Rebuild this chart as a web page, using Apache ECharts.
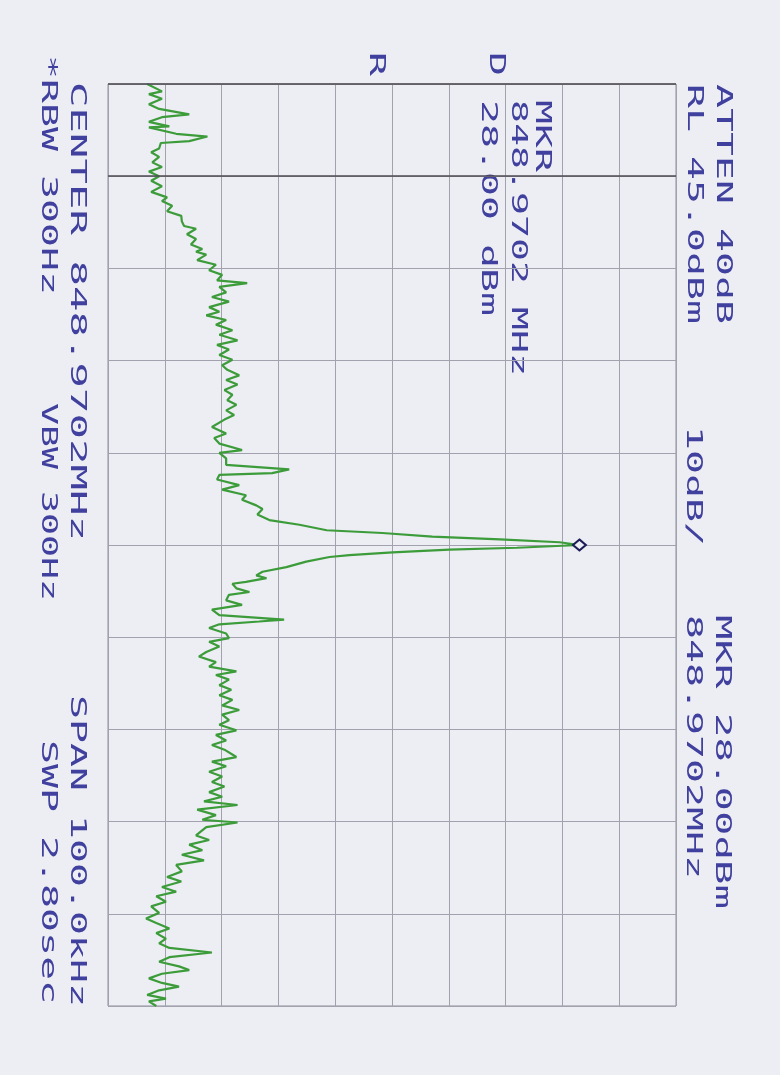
<!DOCTYPE html>
<html>
<head>
<meta charset="utf-8">
<script src="https://cdn.jsdelivr.net/npm/echarts@6/dist/echarts.min.js"></script>
<style>
  html, body { margin: 0; padding: 0; background: #ededf4; }
  #main { width: 780px; height: 1075px; }
</style>
</head>
<body>
<div id="main"></div>
<script>
// spectrum trace: offset from centre (kHz) and level (dBm)
var freqOffsetKHz = [
  -50.0, -49.2, -48.9, -48.4, -47.8, -47.3, -46.7, -46.4, -45.9, -45.4,
  -45.3, -44.6, -44.3, -43.8, -43.6, -43.0, -42.6, -42.1, -41.5, -41.0,
  -40.5, -40.0, -39.5, -38.9, -38.3, -37.7, -37.3, -36.8, -36.2, -35.7,
  -35.1, -34.6, -34.3, -33.7, -33.2, -32.6, -32.1, -31.8,
  -31.5, -30.9, -30.4, -29.8, -29.3, -28.7, -28.4, -28.0, -27.4, -26.9,
  -26.4, -25.8, -25.3, -24.9, -24.4, -23.9, -23.3, -22.8, -22.2, -21.7,
  -21.2, -20.6, -20.1, -19.5, -19.0, -18.4, -17.9, -17.4, -16.8, -16.3,
  -15.7, -15.2, -14.6, -14.1, -13.6,
  -12.8, -12.1, -11.6, -11.0, -10.3, -10.0, -9.4, -8.7, -8.2, -7.8,
  -7.6, -7.1, -6.5, -6.0, -5.4, -4.9, -4.3, -3.9, -3.3,
  -2.7, -2.2, -1.6, -1.3, -0.9, -0.6, -0.3, 0.0, 0.3, 0.5, 0.8, 1.1, 1.3, 1.8,
  2.4, 2.9, 3.3, 3.6, 4.0, 4.2, 4.7, 5.1, 5.4, 6.0,
  6.5, 7.0, 7.6, 8.1, 8.3, 8.6, 9.0, 9.6, 10.1, 10.5, 11.0, 11.6, 12.1,
  12.7, 13.2, 13.7, 14.1, 14.6, 15.2, 15.7, 16.3, 16.8, 17.4,
  17.9, 18.4, 19.0, 19.5, 20.1, 20.6, 21.2, 21.7, 22.2, 23.0,
  23.5, 24.0, 24.6, 25.1, 25.7, 26.2, 26.8, 27.3, 27.8, 28.2,
  28.7, 29.3, 29.8, 30.1, 30.6,
  31.5, 32.0, 32.5, 33.1, 33.6, 34.2, 34.7, 35.4, 36.0, 36.5,
  37.1, 37.6, 38.1, 38.7, 39.2, 39.9, 40.5, 41.0, 41.6, 42.1,
  42.7, 43.2, 43.7, 44.2, 44.7, 45.2, 45.7, 46.1, 46.5, 47.0,
  47.5, 47.9, 48.3, 48.8, 49.2, 49.5, 50.0
];
var levelDbm = [
  -48.1, -45.5, -47.8, -45.5, -47.8, -46.0, -40.7, -45.5, -47.8, -44.2,
  -47.8, -43.0, -37.5, -40.7, -45.7, -46.0, -47.4, -46.0, -47.2, -45.5,
  -47.8, -46.0, -47.4, -45.5, -47.4, -44.6, -45.5, -43.7, -44.6, -42.1,
  -42.0, -41.6, -39.5, -41.1, -39.5, -40.4, -38.4, -39.5,
  -37.7, -39.3, -36.0, -37.2, -34.9, -35.8, -30.5, -35.4, -34.2, -36.7,
  -33.7, -37.2, -35.4, -37.7, -34.2, -36.0, -33.1, -35.4, -32.2, -35.8,
  -33.7, -35.4, -33.1, -34.9, -34.0, -31.9, -34.2, -32.2, -34.5, -33.1,
  -34.0, -32.4, -34.2, -32.8, -34.5,
  -36.7, -34.2, -36.3, -35.4, -31.4, -35.4, -34.2, -34.2, -23.1, -26.1,
  -35.4, -35.8, -31.9, -34.9, -30.7, -31.4, -28.9, -27.8, -28.7,
  -26.6, -21.3, -16.5, -6.7, 2.1, 14.0, 24.5, 28.0, 17.0, 5.1, -4.9, -12.5, -16.0, -20.1,
  -23.6, -27.8, -28.9, -27.1, -30.7, -33.1, -32.4, -30.1, -33.7, -34.2,
  -31.4, -36.7, -35.4, -24.0, -28.4, -35.4, -37.2, -34.2, -33.7, -37.2, -35.4, -37.7, -39.0,
  -36.0, -37.2, -32.4, -36.0, -33.7, -35.4, -33.3, -35.4, -33.1, -34.9,
  -31.9, -34.9, -33.7, -35.4, -32.4, -36.0, -34.2, -36.7, -34.5, -32.4,
  -36.7, -34.2, -37.2, -34.9, -36.7, -34.5, -37.2, -34.9, -38.1, -32.2,
  -39.3, -36.0, -38.4, -32.2, -37.7,
  -39.5, -37.2, -40.7, -38.4, -42.0, -38.1, -43.0, -42.0, -44.6, -42.1,
  -45.5, -43.0, -46.5, -44.8, -47.4, -46.0, -48.3, -46.5, -44.2, -46.5,
  -44.8, -46.0, -44.2, -36.7, -44.2, -46.0, -42.5, -40.7, -45.5, -47.8,
  -45.5, -42.5, -46.0, -48.1, -44.8, -47.8, -46.5
];
// marker
var markerDbm = 28.0;
var markerKHz = 0.0;
// screen settings
var refLevel = 45;      // RL 45.0 dBm, top of screen
var dbPerDiv = 10;
var spanKHz = 100;

var INK = '#40409e';
var FONT = 21;

// rotated plotter text, reads top to bottom
function vtext(str, cx, y0, cell) {
  return {
    type: 'text',
    x: cx,
    y: y0,
    rotation: -Math.PI / 2,
    scaleX: cell / (FONT * 0.602),
    silent: true,
    style: {
      text: str,
      fill: INK,
      font: FONT + 'px "DejaVu Sans Mono"',
      textAlign: 'left',
      align: 'left',
      textVerticalAlign: 'middle',
      verticalAlign: 'middle'
    }
  };
}

var trace = [];
for (var i = 0; i < freqOffsetKHz.length; i++) {
  trace.push([levelDbm[i], freqOffsetKHz[i]]);
}

var myChart = echarts.init(document.getElementById('main'));
var option = {
  backgroundColor: '#ededf4',
  animation: false,
  grid: {
    left: 108,
    right: 104,
    top: 84,
    bottom: 69,
    show: true,
    borderColor: '#8e8e9a',
    borderWidth: 1
  },
  xAxis: {
    type: 'value',
    min: refLevel - 10 * dbPerDiv,
    max: refLevel,
    interval: dbPerDiv,
    axisLine: { show: false },
    axisTick: { show: false },
    axisLabel: { show: false },
    splitLine: { show: true, lineStyle: { color: '#a2a2ae', width: 1 } }
  },
  yAxis: {
    type: 'value',
    inverse: true,
    min: -spanKHz / 2,
    max: spanKHz / 2,
    interval: spanKHz / 10,
    axisLine: { show: false },
    axisTick: { show: false },
    axisLabel: { show: false },
    splitLine: { show: true, lineStyle: { color: '#a2a2ae', width: 1 } }
  },
  series: [{
    type: 'line',
    data: trace,
    showSymbol: false,
    symbol: 'none',
    lineStyle: { color: '#3c9c3a', width: 2.2 },
    markLine: {
      silent: true,
      symbol: 'none',
      label: { show: false },
      lineStyle: { color: '#4e4a52', width: 1.5, type: 'solid' },
      data: [{ yAxis: -50 }, { yAxis: -40 }]
    },
    markPoint: {
      silent: true,
      symbol: 'diamond',
      symbolSize: [13, 11],
      label: { show: false },
      itemStyle: { color: '#ededf4', borderColor: '#1c1c58', borderWidth: 2 },
      data: [{ coord: [markerDbm, markerKHz] }]
    }
  }],
  graphic: [
    vtext('ATTEN 40dB', 722, 84, 24),
    vtext('RL 45.0dBm', 693, 84, 24),
    vtext('10dB/', 692, 426, 24),
    vtext('MKR 28.00dBm', 721, 615, 24.5),
    vtext('848.9702MHz', 692, 615, 24),
    vtext('MKR', 541, 100, 24),
    vtext('848.9702 MHz', 517, 100, 23),
    vtext('28.00 dBm', 487, 100, 24),
    vtext('R', 375, 52, 24),
    vtext('D', 495, 52, 24),
    vtext('CENTER 848.9702MHz', 76, 82, 25.5),
    vtext('*RBW 300Hz', 47, 55, 24),
    vtext('VBW 300Hz', 47, 403, 22),
    vtext('SPAN 100.0kHz', 76, 695, 24),
    vtext('SWP 2.80sec', 47, 740, 24)
  ]
};
myChart.setOption(option);
</script>
</body>
</html>
